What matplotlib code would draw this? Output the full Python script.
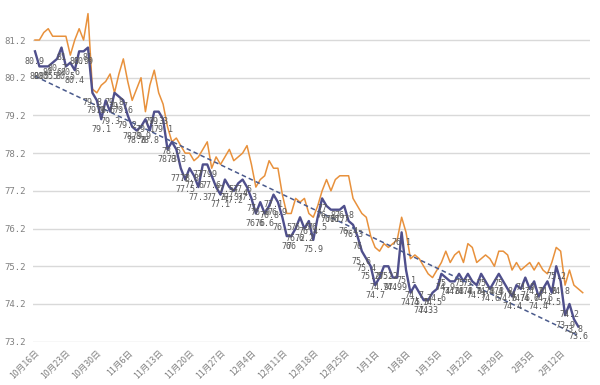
import numpy as np
import matplotlib
matplotlib.use('Agg')
import matplotlib.pyplot as plt

# daily readings from 10/16
blue = [80.9, 80.5, 80.5, 80.5, 80.6, 80.7, 81.0, 80.5, 80.6, 80.4,
        80.9, 80.9, 81.0, 79.8, 79.6, 79.1, 79.6, 79.3, 79.8, 79.7,
        79.6, 79.2, 78.9, 78.8, 78.9, 79.1, 78.8, 79.3, 79.3, 79.1,
        78.3, 78.5, 78.3, 77.8, 77.5, 77.8, 77.6, 77.3, 77.9, 77.9,
        77.6, 77.3, 77.1, 77.5, 77.3, 77.2, 77.4, 77.5, 77.3, 77.0,
        76.6, 76.9, 76.6, 76.8, 77.1, 76.9, 76.5, 76.0, 76.0, 76.2,
        76.5, 76.2, 76.4, 75.9, 76.5, 77.0, 76.8, 76.7, 76.7, 76.7,
        76.8, 76.4, 76.3, 76.0, 75.6, 75.4, 75.2, 74.7, 74.9, 75.2,
        75.2, 74.9, 74.9, 76.1, 75.1, 74.5, 74.7, 74.5, 74.3, 74.3,
        74.5, 74.6, 75.0, 74.9, 74.8, 74.8, 75.0, 74.8, 75.0, 74.8,
        74.7, 75.0, 74.8, 74.6, 74.8, 75.0, 74.8, 74.6, 74.4, 74.7,
        74.6, 74.9, 74.6, 74.8, 74.4, 74.6, 74.8, 74.5, 75.2, 74.8,
        73.9, 74.2, 73.8, 73.6]

orange = [81.2, 81.2, 81.4, 81.5, 81.3, 81.3, 81.3, 81.3, 80.8, 81.2,
          81.5, 81.2, 81.9, 79.9, 79.8, 80.0, 80.1, 80.3, 79.8, 80.3,
          80.7, 80.1, 79.6, 79.9, 80.2, 79.3, 80.0, 80.4, 79.8, 79.5,
          78.9, 78.5, 78.6, 78.4, 78.2, 78.2, 78.0, 78.1, 78.3, 78.5,
          77.8, 78.1, 77.9, 78.1, 78.3, 78.0, 78.1, 78.2, 78.4, 77.9,
          77.3, 77.5, 77.6, 78.0, 77.8, 77.8, 77.1, 76.6, 76.6, 77.0,
          76.9, 77.0, 76.6, 76.5, 76.8, 77.2, 77.5, 77.2, 77.5, 77.6,
          77.6, 77.6, 77.0, 76.8, 76.6, 76.5, 76.0, 75.7, 75.6, 75.8,
          75.7, 75.8, 75.9, 76.5, 76.1, 75.4, 75.5, 75.4, 75.2, 75.0,
          74.9, 75.1, 75.3, 75.6, 75.3, 75.5, 75.6, 75.3, 75.8, 75.7,
          75.3, 75.4, 75.5, 75.4, 75.2, 75.6, 75.6, 75.5, 75.1, 75.3,
          75.1, 75.2, 75.3, 75.1, 75.3, 75.1, 75.0, 75.3, 75.7, 75.6,
          74.7, 75.1, 74.7, 74.6, 74.5]

tick_labels = ['10月16日', '10月23日', '10月30日', '11月6日', '11月13日', '11月20日',
               '11月27日', '12月4日', '12月11日', '12月18日', '12月25日', '1月1日',
               '1月8日', '1月15日', '1月22日', '1月29日', '2月5日', '2月12日']
y_ticks = [73.2, 74.2, 75.2, 76.2, 77.2, 78.2, 79.2, 80.2, 81.2]

BLUE = '#4f4f8c'
ORANGE = '#e8913c'
GREY = '#808080'

fig = plt.figure(figsize=(6, 3.85), dpi=100)
ax = fig.add_axes([0.055, 0.1125, 0.928, 0.8815])

xb = np.arange(len(blue))
xo = np.arange(len(orange))

ax.plot(xo, orange, color=ORANGE, lw=1.1, zorder=3)
ax.plot(xb, blue, color=BLUE, lw=1.7, zorder=4)

# linear trend of the blue series
k, b = np.polyfit(xb, blue, 1)
ax.plot(xb, k * xb + b, color='#4a5a8c', lw=1.1, ls=(0, (3, 2)), zorder=5)

for x, v in zip(xb, blue):
    ax.annotate(f'{v:g}', (x, v), xytext=(0, -4), textcoords='offset points',
                ha='center', va='top', fontsize=6, color='#595959',
                family='DejaVu Sans Mono', zorder=6)

ax.set_xlim(-0.45, 125.6)
ax.set_ylim(73.2, 82.2)
ax.set_yticks(y_ticks)
ax.set_yticklabels([f'{t:.1f}' for t in y_ticks], family='DejaVu Sans Mono',
                   fontsize=6.5, color=GREY)
ax.set_xticks(np.arange(len(tick_labels)) * 7)
ax.set_xticklabels(tick_labels, rotation=45, ha='right', rotation_mode='anchor',
                   fontsize=6.3, color=GREY, family=['Noto Sans CJK SC', 'DejaVu Sans'])
ax.tick_params(length=0, pad=5)
ax.grid(axis='y', color='#d9d9d9', lw=1)
ax.set_axisbelow(True)
for s in ax.spines.values():
    s.set_visible(False)

fig.savefig('out.png', dpi=100)
